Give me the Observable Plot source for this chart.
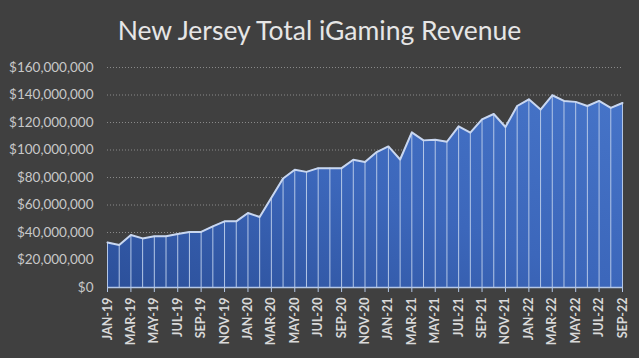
<!DOCTYPE html>
<html>
<head>
<meta charset="utf-8">
<script src="https://cdn.jsdelivr.net/npm/d3@7"></script>
<script src="https://cdn.jsdelivr.net/npm/@observablehq/plot@0.6"></script>
<style>
  html, body { margin: 0; padding: 0; background: #404040; width: 639px; height: 358px; overflow: hidden; }
  #title { height: 55px; box-sizing: border-box; padding-top: 15px; text-align: center; color: #e6e6e6; font-family: Lato, "Open Sans", sans-serif; font-size: 26.5px; line-height: 30px; }
  #chart svg { display: block; }
</style>
</head>
<body>
<div id="title">New Jersey Total iGaming Revenue</div>
<div id="chart"></div>
<script>
const months = [
  "JAN-19","FEB-19","MAR-19","APR-19","MAY-19","JUN-19","JUL-19","AUG-19","SEP-19","OCT-19","NOV-19","DEC-19",
  "JAN-20","FEB-20","MAR-20","APR-20","MAY-20","JUN-20","JUL-20","AUG-20","SEP-20","OCT-20","NOV-20","DEC-20",
  "JAN-21","FEB-21","MAR-21","APR-21","MAY-21","JUN-21","JUL-21","AUG-21","SEP-21","OCT-21","NOV-21","DEC-21",
  "JAN-22","FEB-22","MAR-22","APR-22","MAY-22","JUN-22","JUL-22","AUG-22","SEP-22"
];
const revenue = [
  32800000, 30900000, 38200000, 35700000, 37200000, 37200000, 38900000, 40400000, 40400000, 44500000, 48100000, 48100000,
  54200000, 51300000, 65200000, 79300000, 85600000, 84100000, 86800000, 86800000, 86800000, 92900000, 91200000, 98500000,
  102600000, 93100000, 112800000, 107000000, 107500000, 106000000, 117200000, 112600000, 122300000, 126200000, 116700000, 132000000,
  136900000, 129400000, 139800000, 135700000, 135000000, 132000000, 135700000, 130600000, 134200000
];
const xTickLabels = ["JAN-19","MAR-19","MAY-19","JUL-19","SEP-19","NOV-19","JAN-20","MAR-20","MAY-20","JUL-20","SEP-20","NOV-20",
  "JAN-21","MAR-21","MAY-21","JUL-21","SEP-21","NOV-21","JAN-22","MAR-22","MAY-22","JUL-22","SEP-22"];
const yTicks = [0, 20000000, 40000000, 60000000, 80000000, 100000000, 120000000, 140000000, 160000000];

const data = months.map((m, i) => ({month: m, revenue: revenue[i]}));
const fmt = d3.format(",");

const chart = Plot.plot({
  width: 639,
  height: 303,
  marginTop: 12,
  marginBottom: 71,
  marginLeft: 107,
  marginRight: 17,
  style: {background: "#404040", fontFamily: "Lato, 'Open Sans', sans-serif"},
  x: {type: "point", domain: months, padding: 0, label: null},
  y: {domain: [0, 160000000], label: null},
  marks: [
    Plot.gridY(yTicks.filter(d => d > 0), {stroke: "#8a8a8a", strokeOpacity: 1, strokeDasharray: "1,2"}),
    Plot.areaY(data, {x: "month", y: "revenue", fill: "url(#areaGrad)", curve: "linear"}),
    Plot.ruleX(data, {x: "month", y1: 0, y2: "revenue", stroke: "#b4c7e7", strokeWidth: 1}),
    Plot.lineY(data, {x: "month", y: "revenue", stroke: "#c9d7f0", strokeWidth: 2}),
    Plot.ruleY([0], {stroke: "#b4c7e7", strokeWidth: 1.5}),
    Plot.axisY({ticks: yTicks, tickFormat: d => "$" + fmt(d), tickSize: 0, tickPadding: 14, fontSize: 13.5, fill: "#c8c8c8", label: null}),
    Plot.axisX({ticks: xTickLabels, tickRotate: -90, tickSize: 5, tickPadding: 5, fontSize: 12.5, fontWeight: "bold", fill: "#d9d9d9", stroke: "#b4c7e7", label: null})
  ]
});

const ns = "http://www.w3.org/2000/svg";
const defs = document.createElementNS(ns, "defs");
const grad = document.createElementNS(ns, "linearGradient");
grad.setAttribute("id", "areaGrad");
grad.setAttribute("x1", "0"); grad.setAttribute("y1", "1");
grad.setAttribute("x2", "1"); grad.setAttribute("y2", "0");
[["0", "#2c509a"], ["0.5", "#3c67bb"], ["1", "#4674c8"]].forEach(([o, c]) => {
  const s = document.createElementNS(ns, "stop");
  s.setAttribute("offset", o); s.setAttribute("stop-color", c);
  grad.appendChild(s);
});
defs.appendChild(grad);
chart.insertBefore(defs, chart.firstChild);
document.getElementById("chart").appendChild(chart);
</script>
</body>
</html>
